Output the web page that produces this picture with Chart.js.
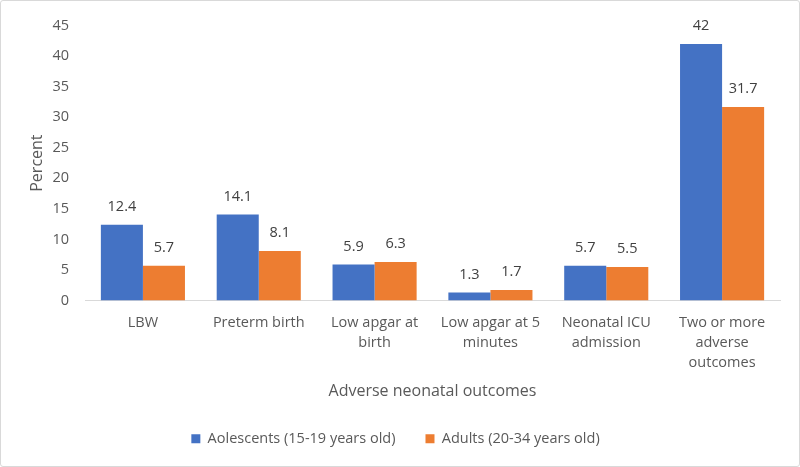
<!DOCTYPE html>
<html>
<head>
<meta charset="utf-8">
<script src="https://cdn.jsdelivr.net/npm/chart.js@4"></script>
<style>
    html, body { margin: 0; padding: 0; background: #fff; }
    #wrap {
        position: absolute; left: 0; top: 0;
        width: 798px; height: 465px;
        border: 1px solid #d9d9d9; border-radius: 3px;
    }
</style>
</head>
<body>
<div id="wrap"><canvas id="chart" width="798" height="465"></canvas></div>
<script>
// Chart data
const categories = [
    'LBW',
    'Preterm birth',
    ['Low apgar at', 'birth'],
    ['Low apgar at 5', 'minutes'],
    ['Neonatal ICU', 'admission'],
    ['Two or more', 'adverse', 'outcomes']
];
const adolescents = [12.4, 14.1, 5.9, 1.3, 5.7, 42];
const adults = [5.7, 8.1, 6.3, 1.7, 5.5, 31.7];
const yTicks = [0, 5, 10, 15, 20, 25, 30, 35, 40, 45];

const textColor = '#595959';
const fontFamily = '"Open Sans", "Liberation Sans", sans-serif';

// draws value labels above each bar
const valueLabels = {
    id: 'valueLabels',
    afterDatasetsDraw(chart) {
        const ctx = chart.ctx;
        ctx.save();
        ctx.font = '14.5px ' + fontFamily;
        ctx.fillStyle = '#404040';
        ctx.textAlign = 'center';
        ctx.textBaseline = 'middle';
        chart.data.datasets.forEach((ds, i) => {
            chart.getDatasetMeta(i).data.forEach((bar, j) => {
                ctx.fillText(String(ds.data[j]), bar.x, bar.y - 18);
            });
        });
        ctx.restore();
    }
};

new Chart(document.getElementById('chart'), {
    type: 'bar',
    data: {
        labels: categories,
        datasets: [{
            label: 'Aolescents (15-19 years old)',
            data: adolescents,
            backgroundColor: '#4472C4'
        }, {
            label: 'Adults (20-34 years old)',
            data: adults,
            backgroundColor: '#ED7D31'
        }]
    },
    options: {
        responsive: false,
        animation: false,
        datasets: {
            bar: { categoryPercentage: 0.726, barPercentage: 1 }
        },
        layout: { padding: { top: 12, right: 19, bottom: 10, left: 10 } },
        plugins: {
            tooltip: { enabled: false },
            legend: {
                position: 'bottom',
                labels: {
                    boxWidth: 9, boxHeight: 9, padding: 30,
                    color: textColor,
                    font: { family: fontFamily, size: 14.5 }
                }
            }
        },
        scales: {
            x: {
                grid: { display: false, drawTicks: false },
                border: { color: '#d9d9d9' },
                ticks: {
                    color: textColor, padding: 12, maxRotation: 0, autoSkip: false,
                    font: { family: fontFamily, size: 14.5, lineHeight: 1.4 }
                },
                title: {
                    display: true, text: 'Adverse neonatal outcomes',
                    color: textColor, padding: { top: 10, bottom: 0 },
                    font: { family: fontFamily, size: 16 }
                },
                afterFit(scale) { scale.height = 101; }
            },
            y: {
                min: 0, max: 45,
                afterBuildTicks(scale) { scale.ticks = yTicks.map(v => ({ value: v })); },
                grid: { display: false, drawTicks: false },
                border: { display: false },
                ticks: {
                    color: textColor, padding: 16,
                    font: { family: fontFamily, size: 14.5 }
                },
                title: {
                    display: true, text: 'Percent',
                    color: textColor, padding: { top: 17, bottom: 0 },
                    font: { family: fontFamily, size: 16 }
                },
                afterFit(scale) { scale.width = 74; }
            }
        }
    },
    plugins: [valueLabels]
});
</script>
</body>
</html>
